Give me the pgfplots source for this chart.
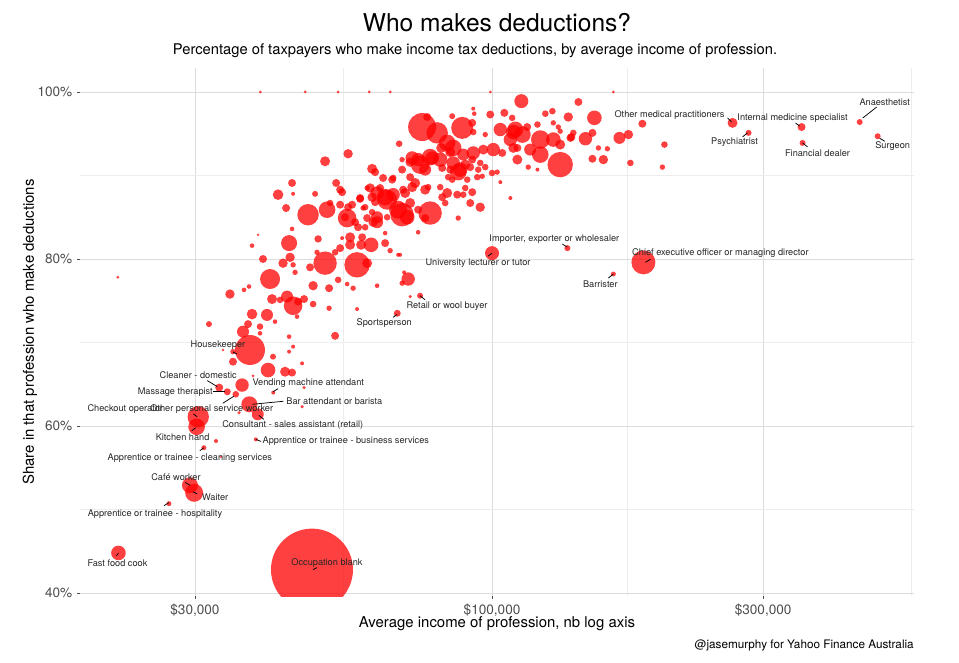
\documentclass[border=0pt]{standalone}
\usepackage{fontspec}
\setmainfont{TeX Gyre Heros}
\usepackage{pgfplots}
\pgfplotsset{compat=1.18}
\usepackage{pgfplotstable}

\definecolor{gridmaj}{HTML}{DCDCDC}
\definecolor{gridmin}{HTML}{EDEDED}
\definecolor{ticktxt}{HTML}{4D4D4D}

% average income, share making deductions (%), bubble radius (px)
\pgfplotstableread{
inc pct r
39100 100 1.5
46900 100 1.5
53600 100 1.5
60800 100 1.5
66200 100 1.5
99300 100 1.5
163500 100 1.5
21950 77.8 1.5
443700 96.4 3
477200 94.7 3
350600 95.8 4
352000 93.9 3
265000 96.3 5
282800 95.1 3
184700 79.6 12
163500 78.2 2.5
135700 81.3 3
100000 80.7 7
74700 75.6 3
68100 73.5 3.5
37500 69.1 15
33100 64.6 4
34200 64.1 3.5
41200 64.0 2
37400 62.6 8
35400 63.8 3.3
30400 61.1 10.7
38700 61.4 6
30200 59.9 8.3
38400 58.4 2
31100 57.4 2.5
29400 52.9 8
29900 52.0 9
27000 50.7 2.5
22000 44.8 7.3
48200 42.8 41
31750 72.2 3
34570 75.8 4.7
36600 76.3 2.3
37350 76.7 2.3
40670 77.6 10
41000 75.2 5
43570 75.5 6
44650 74.4 9.3
42350 75.1 3.3
45560 74.9 4
46680 75.2 4
48420 74.6 3.3
45370 73.1 2.3
37810 73.4 5.3
40170 73.3 6
41500 72.5 2.3
37200 72.2 4
39050 71.9 3.3
36450 71.3 6
35000 68.9 2.7
43930 70.7 2.3
52940 70.8 4
43930 68.9 2
44650 69.5 2
41160 68.3 3
40340 66.7 7.3
43220 66.5 5
44460 66.4 4
46310 67.5 2
37960 66.0 1.5
36310 64.9 6.7
35000 67.7 4
39050 71.1 2.3
33610 69.1 1.3
46680 64.6 1.7
46310 62.3 1.7
35870 61.6 1.7
32670 58.2 2
33340 56.3 1.3
38740 82.9 1.3
37810 81.6 2.3
39530 80.0 4
44110 80.2 4.7
43930 81.9 8
43400 86.1 4
42010 87.7 5.3
44460 89.1 4
44650 87.8 2
48810 87.8 3
50830 91.7 5
55800 92.6 4.7
61510 90.8 5
53160 89.1 4
54460 88.0 4
60280 88.5 2.7
61510 87.4 4.7
47440 85.3 10.7
51240 85.9 8.3
51870 86.7 3.3
54030 86.5 4
56720 86.5 4
58590 87.2 4
55580 84.9 9.3
59300 86.1 2.7
60280 84.9 4
62760 85.0 6
58110 83.8 4
44460 83.6 2.3
49410 82.4 3.7
54460 82.5 2
56260 81.7 5
58820 81.7 5
61260 81.7 7.3
54030 81.3 4
49200 80.8 2.7
52940 80.8 3.3
50830 79.5 11.7
57870 79.3 12.7
42870 79.5 4.7
44650 79.3 2.7
47830 79.0 4
45010 78.4 2.7
60280 79.5 5
64840 81.9 4
66170 81.0 2.7
68900 80.5 2
53590 77.5 3.3
48420 76.8 4.7
51660 76.5 4
55580 77.0 2.3
56950 76.5 2.7
62760 76.8 2.3
71180 77.6 6.7
69460 77.1 2.7
70030 78.4 2
71760 75.5 1.7
57870 74.0 2
51660 74.1 2.7
55130 85.0 4
57410 84.4 4
59790 83.8 3.3
61760 84.4 4.7
56260 82.6 5
59070 82.6 4
54030 88.3 4
58590 87.3 4
55800 86.2 4
59790 86.2 3.3
61510 85.6 3.3
61020 88.5 4.7
65370 85.0 3.3
62260 86.8 4
68630 93.8 3.3
69460 91.9 2.7
72350 92.1 6.7
74730 91.3 9.3
78460 92.1 6.7
81050 91.9 7.3
85440 91.5 6.7
89700 91.3 5
87180 90.4 8.3
84410 90.7 4
83720 89.8 3.3
90430 89.5 3.3
94170 89.8 3.3
96100 89.9 2.7
62260 90.4 4
69460 90.7 4
66710 89.5 4
63540 88.5 4
64840 87.4 8.3
66980 87.7 6.7
70320 87.9 5
73230 89.1 5
76260 88.3 5
71760 86.7 5
69460 85.3 11.7
77820 85.5 11.7
74120 85.9 4
76260 84.9 4
81710 87.4 4
83380 87.9 5
86830 87.7 4
88970 87.7 3.3
92280 88.0 4
91540 86.7 4
95320 86.2 4.7
87180 84.9 2.7
74120 83.2 2.3
68340 80.5 2
65370 87.1 10
62760 87.9 6.7
68340 85.9 9
70890 85.0 7.3
64840 83.1 2.3
62760 84.4 6
64310 89.7 4
66980 89.7 3.3
71760 89.8 4
72350 88.6 5
69750 88.3 4
77190 88.6 3.3
81050 88.6 3.3
85090 89.5 3.3
89700 88.5 3.3
82710 86.7 3.3
75340 95.8 14
80060 95.1 10.7
76880 97.0 4
88610 95.7 11
92280 96.3 4
92660 95.2 3.3
97280 94.9 2.7
103400 95.5 6.7
109000 95.2 7.3
113100 94.9 8.3
92660 98.0 2
93040 97.4 2.3
85090 97.1 3
99270 97.3 4
105100 97.5 4
108500 96.9 3.3
112600 98.9 7
141900 98.8 4
83380 93.9 8.3
84410 92.8 5
88970 92.5 6
92280 91.9 4
95320 91.5 3.3
97280 91.0 3.3
100000 90.3 3.3
103400 89.2 2
107700 87.3 2
96490 93.1 5
100500 93.1 6.7
92660 92.7 6.7
104200 92.7 4
109000 93.3 5
110800 91.9 5
81370 93.3 5
85440 93.3 8.3
77820 92.2 8.3
74120 91.9 6.7
71760 91.6 4.7
76260 90.7 6
81710 90.9 4
87900 90.7 7.3
91540 91.0 4
94550 90.7 3.3
102100 90.4 2.7
124100 97.4 3.3
127700 97.7 3.3
136200 97.0 4.7
151400 96.9 7.3
120200 96.1 3.3
128200 96.3 2.7
130800 95.8 2.7
131800 95.3 2.7
115300 95.8 4
109900 95.5 8
139000 95.1 3.3
137900 94.6 4
146000 94.4 6.7
150200 95.1 4
121600 94.3 9.3
128200 94.3 7.3
116700 93.1 6
121600 92.5 8.3
131800 91.3 12.7
153900 93.3 2.7
159600 93.2 2.7
150200 92.0 4
157000 91.9 4.7
115800 91.0 2.7
120200 90.7 2
107700 94.3 6.7
110800 93.3 4
131800 93.7 5
137400 94.5 4
167600 94.5 6
173800 94.9 4.7
183900 96.2 4
175200 91.5 3.3
201100 93.7 3.3
199500 91.0 2.7
}\jobs

% position in px of the 959x662 picture
\newcommand{\px}[2]{({#1*0.75pt},{(662-#2)*0.75pt})}
% label: income, share, text offset dx dy (px), text, segment from (ax,ay) to (bx,by) (px from point)
\newcommand{\lab}[9]{%
  \draw[black, line width=0.55pt] ([xshift={(#6)*0.75pt}, yshift={-(#7)*0.75pt}]axis cs:#1,#2)
     -- ([xshift={(#8)*0.75pt}, yshift={-(#9)*0.75pt}]axis cs:#1,#2);
  \node[font=\fontsize{6.9}{8}\selectfont, text=black!85, inner sep=0pt]
     at ([xshift={(#3)*0.75pt}, yshift={-(#4)*0.75pt}]axis cs:#1,#2) {#5};}

\begin{document}
\begin{tikzpicture}
\useasboundingbox (0,0) rectangle (719.25pt,496.5pt);
\begin{axis}[
  at={(60pt,49.5pt)}, anchor=south west,
  scale only axis, width=625.5pt, height=396pt,
  xmode=log, xmin=18830, xmax=553000, ymin=39.64, ymax=102.87,
  axis line style={draw=none},
  xtick={30000,100000,300000}, xticklabels={{\$30,000},{\$100,000},{\$300,000}},
  ytick={40,60,80,100}, yticklabels={40\%,60\%,80\%,100\%},
  minor xtick={54772,173205,547723}, minor ytick={50,70,90},
  grid=both,
  major grid style={gridmaj, line width=0.6pt},
  minor grid style={gridmin, line width=0.5pt},
  tick align=outside, major tick length=2.25pt, minor tick length=0pt,
  tick style={ticktxt, line width=0.5pt},
  tick pos=left,
  tick label style={font=\fontsize{10.2}{12}\selectfont, text=ticktxt},
  clip marker paths=true,
]
% radius column as point meta; with meta range 0..100 the transformed meta is 10*r
\addplot[scatter, only marks, mark=*,
  point meta=explicit, point meta min=0, point meta max=100,
  scatter/@pre marker code/.code={%
    \pgfmathsetmacro\rad{0.075*\pgfplotspointmetatransformed}%
    \scope[mark size=\rad pt, fill=red, draw opacity=0, fill opacity=0.75]},
  scatter/@post marker code/.code={\endscope},
] table[x=inc, y=pct, meta=r] {\jobs};

\lab{443700}{96.4}{25}{-20}{Anaesthetist}{3}{-4}{17}{-15}
\lab{477200}{94.7}{15}{10}{Surgeon}{2}{2}{7}{5}
\lab{350600}{95.8}{-9}{-9}{Internal medicine specialist}{-6}{-4}{-2}{-1}
\lab{352000}{93.9}{15}{10}{Financial dealer}{0}{0}{5}{4}
\lab{265000}{96.3}{-63}{-8}{Other medical practitioners}{-5}{-5}{-1}{-1}
\lab{282800}{95.1}{-14}{9}{Psychiatrist}{-6}{4}{-1}{0}
\lab{184700}{79.6}{77}{-9}{Chief executive officer or managing director}{2}{0}{7}{-3}
\lab{163500}{78.2}{-13}{10}{Barrister}{-5}{4}{0}{0}
\lab{135700}{81.3}{-13}{-9}{Importer, exporter or wholesaler}{-5}{-4}{0}{-1}
\lab{100000}{80.7}{-14}{10}{University lecturer or tutor}{-4}{3}{0}{0}
\lab{74700}{75.6}{27}{10}{Retail or wool buyer}{0}{0}{5}{4}
\lab{68100}{73.5}{-13}{10}{Sportsperson}{-4}{4}{0}{1}
\lab{37500}{69.1}{-32}{-5}{Housekeeper}{-17}{2}{-13}{4}
\lab{33100}{64.6}{-21}{-12}{Cleaner - domestic}{-12}{-7}{-2}{-1}
\lab{34200}{64.1}{-52}{0}{Massage therapist}{-14}{0}{-2}{0}
\lab{41200}{64.0}{35}{-9}{Vending machine attendant}{0}{-1}{5}{-4}
\lab{37400}{62.6}{85}{-3}{Bar attendant or barista}{3}{0}{34}{-3}
\lab{35400}{63.8}{-24}{15}{Other personal service worker}{-13}{9}{-2}{2}
\lab{30400}{61.1}{-73}{-8}{Checkout operator}{-5}{-3}{-1}{0}
\lab{38700}{61.4}{35}{11}{Consultant - sales assistant (retail)}{1}{1}{6}{5}
\lab{30200}{59.9}{-14}{10}{Kitchen hand}{-5}{4}{-1}{1}
\lab{38400}{58.4}{90}{2}{Apprentice or trainee - business services}{0}{0}{5}{2}
\lab{31100}{57.4}{-14}{10}{Apprentice or trainee - cleaning services}{0}{0}{-4}{3}
\lab{29400}{52.9}{-14}{-8}{Café worker}{-5}{-3}{0}{0}
\lab{29900}{52.0}{21}{4}{Waiter}{-1}{-1}{3}{1}
\lab{27000}{50.7}{-14}{10}{Apprentice or trainee - hospitality}{-5}{2}{0}{-1}
\lab{22000}{44.8}{-1}{10}{Fast food cook}{-2}{3}{0}{0}
\lab{48200}{42.8}{15}{-7}{Occupation blank}{1}{0}{5}{-2}
\end{axis}

\node[font=\fontsize{18.4}{20}\selectfont] at \px{497}{23} {Who makes deductions?};
\node[font=\fontsize{11.05}{13}\selectfont] at \px{475}{51} {Percentage of taxpayers who make income tax deductions, by average income of profession.};
\node[font=\fontsize{11.2}{13}\selectfont] at \px{497}{624} {Average income of profession, nb log axis};
\node[font=\fontsize{11.2}{13}\selectfont, rotate=90] at \px{30}{332} {Share in that profession who make deductions};
\node[font=\fontsize{8.8}{10}\selectfont, anchor=east, inner sep=0pt] at \px{914}{645} {@jasemurphy for Yahoo Finance Australia};
\end{tikzpicture}
\end{document}
